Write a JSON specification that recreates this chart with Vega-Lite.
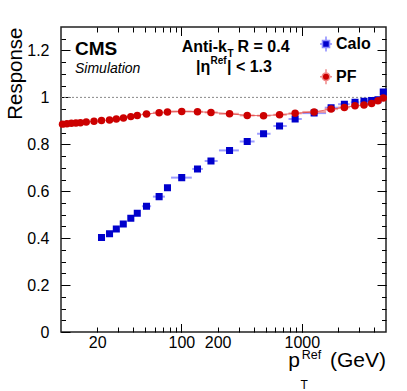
{
  "$schema": "https://vega.github.io/schema/vega-lite/v6.json",
  "width": 325,
  "height": 305,
  "autosize": {"type": "none"},
  "padding": {"left": 61, "top": 27, "right": 21, "bottom": 59},
  "background": "white",
  "config": {
    "view": {"stroke": "#222", "strokeWidth": 1.5},
    "font": "Liberation Sans",
    "axis": {"domain": false, "ticks": false, "gridColor": "#000", "gridOpacity": 1, "gridWidth": 1, "labelFont": "Liberation Sans", "titleFont": "Liberation Sans", "labelColor": "#000", "titleColor": "#000"}
  },
  "datasets": {
    "resp": [
      {"series": "Calo", "x": 21.7, "xlo": 20.6, "xhi": 22.9, "y": 0.403},
      {"series": "Calo", "x": 25.3, "xlo": 24.0, "xhi": 26.7, "y": 0.419},
      {"series": "Calo", "x": 28.8, "xlo": 27.3, "xhi": 30.3, "y": 0.439},
      {"series": "Calo", "x": 32.9, "xlo": 31.3, "xhi": 34.6, "y": 0.460},
      {"series": "Calo", "x": 38.0, "xlo": 36.0, "xhi": 40.0, "y": 0.485},
      {"series": "Calo", "x": 43.0, "xlo": 41.0, "xhi": 45.2, "y": 0.506},
      {"series": "Calo", "x": 51.3, "xlo": 47.0, "xhi": 56.0, "y": 0.536},
      {"series": "Calo", "x": 65.3, "xlo": 58.0, "xhi": 73.0, "y": 0.577},
      {"series": "Calo", "x": 76.6, "xlo": 72.0, "xhi": 81.0, "y": 0.615},
      {"series": "Calo", "x": 100.6, "xlo": 82.0, "xhi": 122.0, "y": 0.658},
      {"series": "Calo", "x": 136, "xlo": 123, "xhi": 151, "y": 0.695},
      {"series": "Calo", "x": 176, "xlo": 156, "xhi": 200, "y": 0.729},
      {"series": "Calo", "x": 251, "xlo": 205, "xhi": 300, "y": 0.774},
      {"series": "Calo", "x": 352, "xlo": 305, "xhi": 405, "y": 0.812},
      {"series": "Calo", "x": 481, "xlo": 425, "xhi": 550, "y": 0.845},
      {"series": "Calo", "x": 653, "xlo": 580, "xhi": 750, "y": 0.878},
      {"series": "Calo", "x": 880, "xlo": 775, "xhi": 1000, "y": 0.908},
      {"series": "Calo", "x": 1265, "xlo": 1010, "xhi": 1590, "y": 0.933},
      {"series": "Calo", "x": 1750, "xlo": 1550, "xhi": 2000, "y": 0.956},
      {"series": "Calo", "x": 2256, "xlo": 2000, "xhi": 2500, "y": 0.971},
      {"series": "Calo", "x": 2765, "xlo": 2550, "xhi": 3000, "y": 0.979},
      {"series": "Calo", "x": 3283, "xlo": 3050, "xhi": 3550, "y": 0.983},
      {"series": "Calo", "x": 3800, "xlo": 3560, "xhi": 4050, "y": 0.987},
      {"series": "Calo", "x": 4285, "xlo": 4080, "xhi": 4500, "y": 0.990},
      {"series": "Calo", "x": 4745, "xlo": 4500, "xhi": 5000, "y": 1.023},
      {"series": "PF", "x": 10.3, "xlo": 10.0, "xhi": 10.7, "y": 0.886},
      {"series": "PF", "x": 11.2, "xlo": 10.8, "xhi": 11.7, "y": 0.888},
      {"series": "PF", "x": 12.2, "xlo": 11.7, "xhi": 12.7, "y": 0.890},
      {"series": "PF", "x": 13.3, "xlo": 12.8, "xhi": 13.9, "y": 0.891},
      {"series": "PF", "x": 14.5, "xlo": 13.9, "xhi": 15.2, "y": 0.892},
      {"series": "PF", "x": 16.2, "xlo": 15.3, "xhi": 17.2, "y": 0.895},
      {"series": "PF", "x": 18.8, "xlo": 17.7, "xhi": 19.9, "y": 0.898},
      {"series": "PF", "x": 21.7, "xlo": 20.6, "xhi": 22.9, "y": 0.901},
      {"series": "PF", "x": 25.3, "xlo": 24.0, "xhi": 26.7, "y": 0.904},
      {"series": "PF", "x": 28.8, "xlo": 27.3, "xhi": 30.3, "y": 0.908},
      {"series": "PF", "x": 33.0, "xlo": 31.3, "xhi": 34.6, "y": 0.912},
      {"series": "PF", "x": 38.0, "xlo": 36.0, "xhi": 40.0, "y": 0.918},
      {"series": "PF", "x": 43.0, "xlo": 41.0, "xhi": 45.2, "y": 0.923},
      {"series": "PF", "x": 51.3, "xlo": 47.0, "xhi": 56.0, "y": 0.929},
      {"series": "PF", "x": 65.3, "xlo": 58.0, "xhi": 73.0, "y": 0.935},
      {"series": "PF", "x": 76.6, "xlo": 72.0, "xhi": 81.0, "y": 0.938},
      {"series": "PF", "x": 100.6, "xlo": 82.0, "xhi": 122.0, "y": 0.940},
      {"series": "PF", "x": 136, "xlo": 123, "xhi": 151, "y": 0.939},
      {"series": "PF", "x": 176, "xlo": 156, "xhi": 200, "y": 0.936},
      {"series": "PF", "x": 251, "xlo": 205, "xhi": 300, "y": 0.930},
      {"series": "PF", "x": 352, "xlo": 305, "xhi": 405, "y": 0.923},
      {"series": "PF", "x": 481, "xlo": 425, "xhi": 550, "y": 0.922},
      {"series": "PF", "x": 653, "xlo": 580, "xhi": 750, "y": 0.926},
      {"series": "PF", "x": 880, "xlo": 775, "xhi": 1000, "y": 0.932},
      {"series": "PF", "x": 1265, "xlo": 1010, "xhi": 1590, "y": 0.938},
      {"series": "PF", "x": 1750, "xlo": 1550, "xhi": 2000, "y": 0.950},
      {"series": "PF", "x": 2256, "xlo": 2000, "xhi": 2500, "y": 0.957},
      {"series": "PF", "x": 2765, "xlo": 2550, "xhi": 3000, "y": 0.964},
      {"series": "PF", "x": 3283, "xlo": 3050, "xhi": 3550, "y": 0.968},
      {"series": "PF", "x": 3800, "xlo": 3560, "xhi": 4050, "y": 0.974},
      {"series": "PF", "x": 4285, "xlo": 4080, "xhi": 4500, "y": 0.986},
      {"series": "PF", "x": 4745, "xlo": 4500, "xhi": 5000, "y": 0.997}
    ],
    "one": [{}]
  },
  "data": {"name": "resp"},
  "resolve": {"axis": {"x": "independent", "y": "independent"}},
  "layer": [
    {
      "data": {"name": "one"},
      "mark": {"type": "rule", "color": "#888", "strokeWidth": 1, "strokeDash": [2, 2]},
      "encoding": {"y": {"datum": 1, "axis": null, "scale": {"domain": [0, 1.3], "nice": false, "zero": false}}}
    },
    {
      "transform": [{"filter": "datum.series === 'Calo'"}],
      "mark": {"type": "rule", "color": "#8a8aff", "strokeWidth": 2, "opacity": 0.85},
      "encoding": {
        "x": {"field": "xlo", "type": "quantitative", "scale": {"type": "log", "domain": [10, 5000], "nice": false},
          "axis": {"orient": "bottom", "values": [20, 30, 40, 50, 60, 70, 80, 90, 100, 200, 300, 400, 500, 600, 700, 800, 900, 1000, 2000, 3000, 4000],
            "labelExpr": "indexof([20, 100, 200, 1000], datum.value) >= 0 ? format(datum.value, 'd') : ''",
            "grid": true, "gridDash": [5, 1000], "gridColor": "#000",
            "labelPadding": 2, "labelFontSize": 16, "labelOverlap": false, "labelFlush": false, "labelBound": false, "title": null}},
        "x2": {"field": "xhi"},
        "y": {"field": "y", "type": "quantitative", "scale": {"domain": [0, 1.3], "nice": false, "zero": false},
          "axis": {"orient": "left", "values": [0, 0.05, 0.1, 0.15, 0.2, 0.25, 0.3, 0.35, 0.4, 0.45, 0.5, 0.55, 0.6, 0.65, 0.7, 0.75, 0.8, 0.85, 0.9, 0.95, 1, 1.05, 1.1, 1.15, 1.2, 1.25],
            "labelExpr": "indexof([0, 0.2, 0.4, 0.6, 0.8, 1, 1.2], datum.value) >= 0 ? format(datum.value, '~g') : ''",
            "grid": true, "gridDash": [4.5, 1000], "gridColor": "#000",
            "labelPadding": 12, "labelFontSize": 16, "labelOverlap": false, "labelFlush": false, "labelBound": false,
            "title": "Response", "titleFontSize": 20.5, "titleFontWeight": "normal", "titleAnchor": "end", "titlePadding": 1}}
      }
    },
    {
      "transform": [{"filter": "datum.series === 'Calo'"}],
      "mark": {"type": "point", "filled": true, "size": 256, "opacity": 1, "strokeWidth": 0},
      "encoding": {
        "x": {"field": "x", "type": "quantitative",
          "axis": {"orient": "bottom", "values": [100, 1000], "grid": true, "gridDash": [8.5, 1000], "gridColor": "#000", "labels": false, "title": null}},
        "y": {"field": "y", "type": "quantitative",
          "axis": {"orient": "left", "values": [0, 0.2, 0.4, 0.6, 0.8, 1, 1.2], "grid": true, "gridDash": [9, 1000], "gridColor": "#000", "labels": false, "title": null}},
        "color": {"field": "series", "type": "nominal", "scale": {"domain": ["Calo", "PF"], "range": ["#0000cc", "#cc0000"]},
          "legend": {"orient": "none", "legendX": 256, "legendY": 8, "title": null, "padding": 0, "labelFont": "Liberation Sans", "labelFontSize": 16, "labelFontWeight": "bold", "labelColor": "#000", "symbolSize": 256, "symbolStrokeWidth": 1.5, "rowPadding": 10.7, "labelOffset": 1}},
        "shape": {"field": "series", "type": "nominal", "scale": {"domain": ["Calo", "PF"], "range": ["M-0.44,-0.44H0.44V0.44H-0.44Z M0,-0.94V-0.5 M0,0.5V0.94 M-0.75,0H-0.5 M0.5,0H0.75", "M-0.47,0A0.47,0.47,0,1,0,0.47,0A0.47,0.47,0,1,0,-0.47,0Z M0,-0.94V-0.52 M0,0.52V0.94 M-0.75,0H-0.52 M0.52,0H0.75"]}},
        "stroke": {"field": "series", "type": "nominal", "scale": {"domain": ["Calo", "PF"], "range": ["#8a8aff", "#f08a8a"]}}
      }
    },
    {
      "transform": [{"filter": "datum.series === 'PF'"}],
      "mark": {"type": "rule", "color": "#f08a8a", "strokeWidth": 2, "opacity": 0.8},
      "encoding": {
        "x": {"field": "xlo", "type": "quantitative",
          "axis": {"orient": "top", "values": [20, 30, 40, 50, 60, 70, 80, 90, 100, 200, 300, 400, 500, 600, 700, 800, 900, 1000, 2000, 3000, 4000], "grid": true, "gridDash": [5, 1000], "gridColor": "#000", "labels": false, "title": null}},
        "x2": {"field": "xhi"},
        "y": {"field": "y", "type": "quantitative",
          "axis": {"orient": "right", "values": [0.05, 0.1, 0.15, 0.2, 0.25, 0.3, 0.35, 0.4, 0.45, 0.5, 0.55, 0.6, 0.65, 0.7, 0.75, 0.8, 0.85, 0.9, 0.95, 1, 1.05, 1.1, 1.15, 1.2, 1.25], "grid": true, "gridDash": [4.5, 1000], "gridColor": "#000", "labels": false, "title": null}}
      }
    },
    {
      "transform": [{"filter": "datum.series === 'PF'"}],
      "mark": {"type": "line", "color": "#e03a3a", "strokeWidth": 1, "opacity": 0.75},
      "encoding": {
        "x": {"field": "x", "type": "quantitative",
          "axis": {"orient": "top", "values": [100, 1000], "grid": true, "gridDash": [8.5, 1000], "gridColor": "#000", "labels": false, "title": null}},
        "y": {"field": "y", "type": "quantitative",
          "axis": {"orient": "right", "values": [0.2, 0.4, 0.6, 0.8, 1, 1.2], "grid": true, "gridDash": [9, 1000], "gridColor": "#000", "labels": false, "title": null}}
      }
    },
    {
      "transform": [{"filter": "datum.series === 'PF'"}],
      "mark": {"type": "point", "shape": "circle", "filled": true, "size": 56, "opacity": 1, "color": "#cc0000", "strokeWidth": 0},
      "encoding": {
        "x": {"field": "x", "type": "quantitative", "axis": null},
        "y": {"field": "y", "type": "quantitative", "axis": null}
      }
    },
    {
      "data": {"name": "one"},
      "mark": {"type": "text", "text": "CMS", "font": "Liberation Sans", "fontSize": 19, "fontWeight": "bold", "align": "left", "baseline": "alphabetic", "color": "#000"},
      "encoding": {"x": {"datum": 13.07, "axis": null}, "y": {"datum": 1.1806, "axis": null}}
    },
    {
      "data": {"name": "one"},
      "mark": {"type": "text", "text": "Simulation", "font": "Liberation Sans", "fontSize": 14, "fontStyle": "italic", "align": "left", "baseline": "alphabetic", "color": "#000"},
      "encoding": {"x": {"datum": 13.07, "axis": null}, "y": {"datum": 1.1026, "axis": null}}
    },
    {
      "data": {"name": "one"},
      "mark": {"type": "text", "text": "Anti-k", "font": "Liberation Sans", "fontSize": 16, "fontWeight": "bold", "align": "right", "baseline": "alphabetic", "color": "#000"},
      "encoding": {"x": {"datum": 239.1, "axis": null}, "y": {"datum": 1.1947, "axis": null}}
    },
    {
      "data": {"name": "one"},
      "mark": {"type": "text", "text": "T", "font": "Liberation Sans", "fontSize": 10, "fontWeight": "bold", "align": "left", "baseline": "alphabetic", "color": "#000"},
      "encoding": {"x": {"datum": 241.4, "axis": null}, "y": {"datum": 1.1734, "axis": null}}
    },
    {
      "data": {"name": "one"},
      "mark": {"type": "text", "text": "R = 0.4", "font": "Liberation Sans", "fontSize": 16, "fontWeight": "bold", "align": "left", "baseline": "alphabetic", "color": "#000"},
      "encoding": {"x": {"datum": 292.3, "axis": null}, "y": {"datum": 1.1947, "axis": null}}
    },
    {
      "data": {"name": "one"},
      "mark": {"type": "text", "text": "|η", "font": "Liberation Sans", "fontSize": 16, "fontWeight": "bold", "align": "left", "baseline": "alphabetic", "color": "#000"},
      "encoding": {"x": {"datum": 132.2, "axis": null}, "y": {"datum": 1.1095, "axis": null}}
    },
    {
      "data": {"name": "one"},
      "mark": {"type": "text", "text": "Ref", "font": "Liberation Sans", "fontSize": 10, "fontWeight": "bold", "align": "left", "baseline": "alphabetic", "color": "#000"},
      "encoding": {"x": {"datum": 174.4, "axis": null}, "y": {"datum": 1.1402, "axis": null}}
    },
    {
      "data": {"name": "one"},
      "mark": {"type": "text", "text": "| < 1.3", "font": "Liberation Sans", "fontSize": 16, "fontWeight": "bold", "align": "left", "baseline": "alphabetic", "color": "#000"},
      "encoding": {"x": {"datum": 239.1, "axis": null}, "y": {"datum": 1.1095, "axis": null}}
    },
    {
      "data": {"name": "one"},
      "mark": {"type": "text", "text": "p", "font": "Liberation Sans", "fontSize": 21, "align": "right", "baseline": "alphabetic", "color": "#000"},
      "encoding": {"x": {"datum": 965, "axis": null}, "y": {"datum": -0.148, "axis": null}}
    },
    {
      "data": {"name": "one"},
      "mark": {"type": "text", "text": "Ref", "font": "Liberation Sans", "fontSize": 12.5, "align": "left", "baseline": "alphabetic", "color": "#000"},
      "encoding": {"x": {"datum": 1000, "axis": null}, "y": {"datum": -0.117, "axis": null}}
    },
    {
      "data": {"name": "one"},
      "mark": {"type": "text", "text": "T", "font": "Liberation Sans", "fontSize": 12, "align": "left", "baseline": "alphabetic", "color": "#000"},
      "encoding": {"x": {"datum": 974.8, "axis": null}, "y": {"datum": -0.245, "axis": null}}
    },
    {
      "data": {"name": "one"},
      "mark": {"type": "text", "text": "(GeV)", "font": "Liberation Sans", "fontSize": 21, "align": "right", "baseline": "alphabetic", "color": "#000"},
      "encoding": {"x": {"datum": 5000, "axis": null}, "y": {"datum": -0.148, "axis": null}}
    }
  ]
}
